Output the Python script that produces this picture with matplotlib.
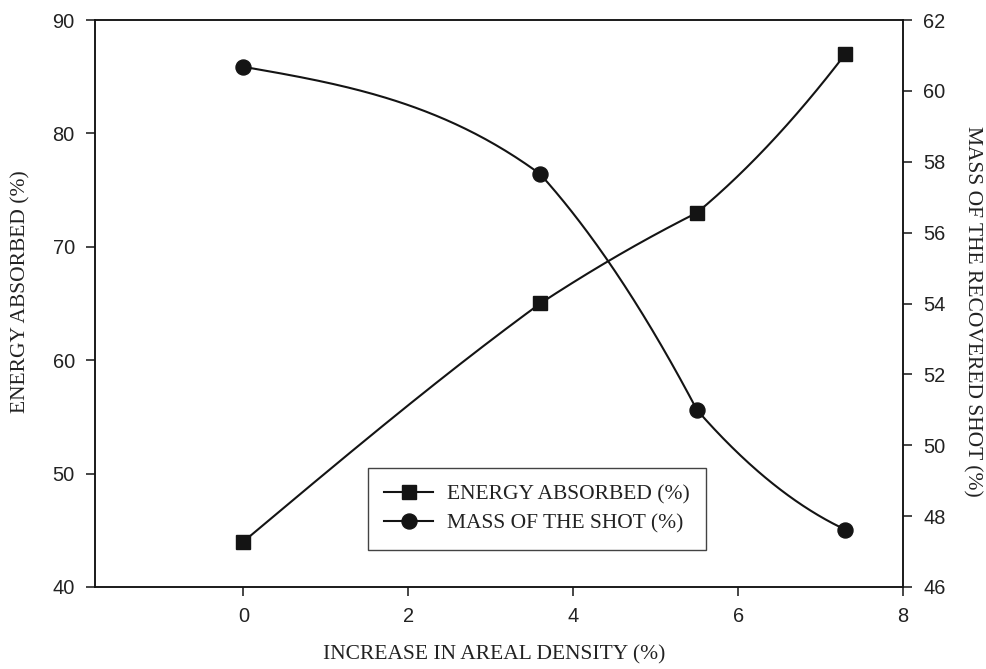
import numpy as np
import matplotlib
matplotlib.use("Agg")
import matplotlib.pyplot as plt

# ---- data ----
areal_density = [0.0, 3.6, 5.5, 7.3]
energy_absorbed = [44.0, 65.0, 73.0, 87.0]
mass_of_shot = [60.68, 57.65, 51.0, 47.62]

x_ticks = [0, 2, 4, 6, 8]
left_ticks = [40, 50, 60, 70, 80, 90]
right_ticks = [46, 48, 50, 52, 54, 56, 58, 60, 62]

COL = "#141414"


def piecewise_smooth(x, y, n=120):
    """Piecewise curve: each segment after the first follows the parabola
    through the previous, start and end points; the first segment is a
    cubic Hermite joined to it (C0 at nodes, as the original software)."""
    x = np.asarray(x, float)
    y = np.asarray(y, float)
    d = np.diff(y) / np.diff(x)
    xs_all, ys_all = [], []
    for i in range(len(x) - 1):
        t = np.linspace(x[i], x[i + 1], n)
        if i == 0:
            # slope of parabola (0,1,2) at x1
            c2 = (d[1] - d[0]) / (x[2] - x[0])
            p1 = d[0] + c2 * (x[1] - x[0])
            m1 = 0.5 * (d[0] + p1)
            m0 = d[0] - 0.5 * (m1 - d[0])
            h = x[1] - x[0]
            s = (t - x[0]) / h
            h00 = 2 * s ** 3 - 3 * s ** 2 + 1
            h10 = s ** 3 - 2 * s ** 2 + s
            h01 = -2 * s ** 3 + 3 * s ** 2
            h11 = s ** 3 - s ** 2
            yy = h00 * y[0] + h10 * h * m0 + h01 * y[1] + h11 * h * m1
        else:
            c2 = (d[i] - d[i - 1]) / (x[i + 1] - x[i - 1])
            yy = y[i - 1] + d[i - 1] * (t - x[i - 1]) + c2 * (t - x[i - 1]) * (t - x[i])
        xs_all.append(t)
        ys_all.append(yy)
    return np.concatenate(xs_all), np.concatenate(ys_all)


fig = plt.figure(figsize=(9.87, 6.69), dpi=100)
ax = fig.add_axes([95 / 987, 1 - 587 / 669, 808 / 987, 567 / 669])
ax2 = ax.twinx()

serif = "Liberation Serif"
sans = "Liberation Sans"
lab_fs = 15.5
tick_fs = 14.4
LW = 1.5

# energy absorbed (left axis)
xs, ys = piecewise_smooth(areal_density, energy_absorbed)
ax.plot(xs, ys, color=COL, lw=LW, solid_joinstyle="round")
ax.plot(areal_density, energy_absorbed, ls="none", marker="s", ms=10,
        color=COL)
h1, = ax.plot([], [], color=COL, lw=LW, marker="s", ms=10)

# mass of shot (right axis)
xs2, ys2 = piecewise_smooth(areal_density, mass_of_shot)
ax2.plot(xs2, ys2, color=COL, lw=LW, solid_joinstyle="round")
ax2.plot(areal_density, mass_of_shot, ls="none", marker="o", ms=10.8,
         color=COL)
h2, = ax2.plot([], [], color=COL, lw=LW, marker="o", ms=10.8)

ax.set_xlim(-1.8, 8)
ax.set_ylim(40, 90)
ax2.set_ylim(46, 62)
ax.set_xticks(x_ticks)
ax.set_yticks(left_ticks)
ax2.set_yticks(right_ticks)

for a in (ax, ax2):
    for s in a.spines.values():
        s.set_linewidth(1.1)
        s.set_color(COL)
    a.tick_params(direction="out", length=6.5, width=1.1, colors=COL,
                  labelsize=tick_fs, pad=8)
    for lab in a.get_xticklabels() + a.get_yticklabels():
        lab.set_fontfamily(sans)
        lab.set_color("#222222")

ax.set_xlabel("INCREASE IN AREAL DENSITY (%)", fontfamily=serif,
              fontsize=lab_fs, color="#222222")
ax.xaxis.label.set_va("center")
ax.xaxis.set_label_coords((494.5 - 95) / 808, (587 - 655) / 567)

ax.set_ylabel("ENERGY ABSORBED (%)", fontfamily=serif, fontsize=lab_fs,
              color="#222222")
ax.yaxis.label.set_va("center")
ax.yaxis.set_label_coords((21 - 95) / 808, (587 - 292) / 567)

ax2.set_ylabel("MASS OF THE RECOVERED SHOT (%)", fontfamily=serif,
               fontsize=lab_fs, color="#222222", rotation=270)
ax2.yaxis.label.set_va("center")
ax2.yaxis.set_label_coords((972 - 95) / 808, (587 - 311) / 567)

leg = ax2.legend([h1, h2], ["ENERGY ABSORBED (%)", "MASS OF THE SHOT (%)"],
                 loc="center", bbox_to_anchor=((537 - 95) / 808, (587 - 509.2) / 567),
                 bbox_transform=ax.transAxes,
                 prop={"family": serif, "size": lab_fs},
                 frameon=True, fancybox=False, edgecolor=COL,
                 handlelength=2.3, handletextpad=0.65, borderpad=0.75,
                 labelspacing=0.42, borderaxespad=0)
leg.get_frame().set_linewidth(1.0)
for t in leg.get_texts():
    t.set_color("#222222")

fig.savefig("out.png", dpi=100)
